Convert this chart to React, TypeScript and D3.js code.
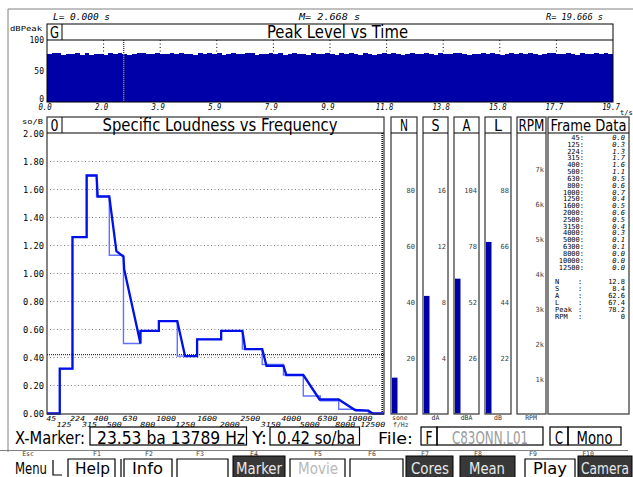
import React from "react";
import * as d3 from "d3";

// ---------- DATA ----------
const peakLevels = [
  78.2, 78.4, 78.3, 75.6, 78.2, 78.0, 78.4, 75.8, 78.3, 75.2, 78.2, 78.1, 75.5, 78.3, 78.2, 78.4, 78.1, 76.0, 78.2, 78.3,
  78.4, 78.2, 78.1, 78.3, 78.2, 77.8, 78.4, 78.2, 78.3, 78.0, 78.2, 75.6, 78.3, 78.2, 78.4, 78.1, 78.3, 76.1, 78.2, 78.3,
  78.1, 78.2, 78.4, 78.3, 75.7, 78.2, 78.1, 78.3, 78.2, 78.4, 75.4, 78.2, 78.3, 78.1, 78.2, 76.0, 78.4, 78.2, 78.1, 78.3,
  78.2, 75.6, 78.3, 78.2, 78.4, 78.1, 75.8, 78.3, 78.2, 75.2, 78.2, 78.4, 78.1, 78.3, 78.2, 76.2, 78.2, 78.3, 78.1, 78.2,
  78.4, 78.2, 75.5, 78.3, 78.1, 78.2, 78.4, 78.3, 78.2, 76.0, 78.1, 78.2, 78.4, 78.2, 78.3, 78.1, 75.8, 78.2, 78.3, 78.2,
  78.4, 78.1, 78.3, 78.2, 76.4, 78.2, 78.4, 78.3, 78.1, 78.2, 78.3, 78.2, 75.7, 78.4, 78.2, 78.1, 78.3, 78.2, 78.4, 78.2,
];
const timeMax = 19.666;
const timeTickLabels = ["0.0", "2.0", "3.9", "5.9", "7.9", "9.9", "11.8", "13.8", "15.8", "17.7", "19.7"];
const peakTicks = [0, 50, 100];
const markerTime = 2.668;

const bandLabels = ["45", "125", "224", "315", "400", "500", "630", "800", "1000", "1250", "1600", "2000", "2500", "3150", "4000", "5000", "6300", "8000", "10000", "12500"];
const bandEdges = [0, 0.9, 1.8, 2.8, 3.5, 4.4, 5.4, 6.6, 7.9, 9.2, 10.6, 12.3, 13.8, 15.2, 16.7, 18.1, 19.3, 20.6, 21.8, 22.7, 23.6];
const coreLoudness = [0.0, 0.32, 1.26, 1.7, 1.55, 1.13, 0.5, 0.59, 0.66, 0.41, 0.53, 0.59, 0.46, 0.35, 0.275, 0.125, 0.09, 0.03, 0.02, 0.0];
const mainLoudness: [number, number][] = [
  [0, 0], [0.9, 0], [0.9, 0.32], [1.8, 0.32], [1.8, 1.26], [2.8, 1.26], [2.8, 1.7], [3.5, 1.7], [3.58, 1.55],
  [4.4, 1.55], [4.9, 1.16], [5.4, 1.12], [5.45, 1.03], [6.6, 0.5], [6.6, 0.59], [7.9, 0.59], [7.9, 0.66],
  [9.2, 0.66], [9.75, 0.41], [10.6, 0.41], [10.6, 0.53], [12.3, 0.53], [12.3, 0.59], [13.8, 0.59], [14.0, 0.46],
  [15.2, 0.46], [15.5, 0.34], [16.7, 0.34], [16.9, 0.275], [18.1, 0.275], [19.25, 0.1], [20.6, 0.1],
  [21.75, 0.025], [22.7, 0.02], [23.0, 0], [23.8, 0],
];
const loudTicks = [0, 0.2, 0.4, 0.6, 0.8, 1.0, 1.2, 1.4, 1.6, 1.8, 2.0];
const yMarkerValue = 0.42;
const xMarkerBark = 23.53;

const meterNames = ["N", "S", "A", "L"];
const meterUnits = ["sone", "dA", "dBA", "dB"];
const meterMax = [100, 20, 130, 110];
const meterTicks = [[20, 40, 60, 80], [4, 8, 12, 16], [26, 52, 78, 104], [22, 44, 66, 88]];
const meterValues = [12.8, 8.4, 62.6, 67.4];
const rpmTicks = [1, 2, 3, 4, 5, 6, 7];

const frameValues = ["0.0", "0.3", "1.3", "1.7", "1.6", "1.1", "0.5", "0.6", "0.7", "0.4", "0.5", "0.6", "0.5", "0.4", "0.3", "0.1", "0.1", "0.0", "0.0", "0.0"];
const summaryLabels = ["N", "S", "A", "L", "Peak", "RPM"];
const summaryValues = ["12.8", "8.4", "62.6", "67.4", "78.2", "0"];

const fKeys = ["Esc", "F1", "F2", "F3", "F4", "F5", "F6", "F7", "F8", "F9", "F10"];

// ---------- STYLE ----------
const SMALL = "'DejaVu Sans Mono', 'Liberation Mono', monospace";
const TITLE = "'DejaVu Sans Condensed', 'Liberation Sans Narrow', 'DejaVu Sans', sans-serif";
const BLUE_DARK = "#0000a8";

type TP = {
  x: number; y: number; s?: string | number; size?: number; anchor?: "start" | "middle" | "end";
  fill?: string; family?: string; w?: number; weight?: string | number; italic?: boolean;
};
function T({ x, y, s, size = 8, anchor = "start", fill = "#000", family = SMALL, w, weight = "normal", italic }: TP) {
  return (
    <text x={x} y={y} fontSize={size} fontFamily={family} textAnchor={anchor} fill={fill}
      fontWeight={weight} fontStyle={italic ? "italic" : "normal"}
      {...(w ? { textLength: w, lengthAdjust: "spacingAndGlyphs" } : {})}>{s}</text>
  );
}

export default function App() {
  // ---- top panel scales
  const xT = d3.scaleLinear().domain([0, timeMax]).range([47, 613]);
  const yP = d3.scaleLinear().domain([0, 100]).range([102, 40]);
  const dt = timeMax / peakLevels.length;
  const timeTicks = d3.range(11).map((i) => (timeMax * i) / 10);
  const peakSeries: [number, number][] = peakLevels.map((v, i) => [i * dt, v]);
  peakSeries.push([timeMax, peakLevels[peakLevels.length - 1]]);
  const peakArea = d3.area<[number, number]>()
    .x((d) => xT(d[0])).y0(yP(0)).y1((d) => yP(d[1])).curve(d3.curveStepAfter);

  // ---- main chart scales
  const xB = d3.scaleLinear().domain([0, 23.8]).range([47, 384]);
  const yL = d3.scaleLinear().domain([0, 2]).range([413.5, 133.5]);
  const corePts: [number, number][] = [];
  coreLoudness.forEach((v, i) => {
    corePts.push([bandEdges[i], v]);
    corePts.push([bandEdges[i + 1], v]);
  });
  const line = d3.line<[number, number]>().x((d) => xB(d[0])).y((d) => yL(d[1]));

  const meterX: [number, number][] = [[391, 417], [423, 448], [454, 479], [485, 511]];
  const yR = d3.scaleLinear().domain([0, 8]).range([413.5, 133.5]);

  const frameY = d3.scaleLinear().domain([0, 19]).range([137.5, 267]);

  return (
    <svg width={633} height={477} style={{ position: "absolute", left: 0, top: 0, background: "#fff" }}
      xmlns="http://www.w3.org/2000/svg">
      <rect x={0} y={0} width={633} height={477} fill="#fff" />
      {/* outer frame */}
      <path d="M8,452 V9 H640" fill="none" stroke="#808080" strokeWidth={1} />
      <line x1={0} x2={628} y1={450.5} y2={450.5} stroke="#808080" />

      {/* ======== TOP PANEL ======== */}
      <T x={53} y={20} s="L= 0.000 s" size={8} italic w={57} />
      <T x={299} y={20} s="M= 2.668 s" size={8} italic w={61} />
      <T x={546} y={20} s="R= 19.666 s" size={8} italic w={57} />
      <T x={10} y={31} s="dBPeak" size={7} w={32} />
      {peakTicks.map((t) => (
        <T key={t} x={44} y={t === 0 ? 102 : yP(t) + 3} s={t} size={8} anchor="end" />
      ))}
      {/* gridlines */}
      {timeTicks.slice(1, 10).map((t, i) => (
        <line key={i} x1={xT(t)} x2={xT(t)} y1={40} y2={102} stroke="#000" strokeDasharray="1,2.5" />
      ))}
      <line x1={xT(markerTime)} x2={xT(markerTime)} y1={40} y2={102} stroke="#000" strokeDasharray="1,1" />
      <path d={peakArea(peakSeries) || ""} fill={BLUE_DARK} shapeRendering="crispEdges" />
      <line x1={xT(markerTime)} x2={xT(markerTime)} y1={yP(77)} y2={102} stroke="#e8e800" strokeDasharray="1,1" />
      <rect x={47} y={24} width={566} height={78} fill="none" stroke="#000" strokeWidth={1} />
      <line x1={47} x2={613} y1={40} y2={40} stroke="#000" />
      <line x1={62} x2={62} y1={24} y2={40} stroke="#000" />
      <T x={54.5} y={38} s="G" size={16} anchor="middle" family={TITLE} w={9} />
      <T x={337.5} y={38} s="Peak Level vs Time" size={17} anchor="middle" family={TITLE} w={141} />
      {timeTicks.map((t, i) => (
        <T key={i} x={xT(t) - 2} y={110} s={timeTickLabels[i]} size={8} anchor="middle" italic w={timeTickLabels[i].length * 4.4} />
      ))}
      <T x={620} y={115} s="t/s" size={7} />

      {/* ======== MAIN CHART ======== */}
      <T x={22} y={124} s="so/B" size={7} w={21} />
      {loudTicks.map((t) => (
        <T key={t} x={44} y={yL(t) + 3} s={t.toFixed(2)} size={8} anchor="end" w={21} />
      ))}
      {loudTicks.slice(1, 10).map((t) => (
        <line key={t} x1={50} x2={383} y1={yL(t)} y2={yL(t)} stroke="#808080" strokeDasharray="1,2.5" />
      ))}
      <line x1={47} x2={384} y1={yL(yMarkerValue)} y2={yL(yMarkerValue)} stroke="#000" strokeDasharray="1,1" />
      <line x1={xB(xMarkerBark) + 2} x2={xB(xMarkerBark) + 2} y1={133} y2={413} stroke="#000" strokeDasharray="1,1" strokeWidth={1.5} />
      <path d={line(corePts) || ""} fill="none" stroke="#6272ff" strokeWidth={1.4} />
      <path d={line(mainLoudness) || ""} fill="none" stroke="#0010e8" strokeWidth={2.3} strokeLinejoin="miter" />
      <rect x={47} y={117} width={337} height={297} fill="none" stroke="#333" strokeWidth={1.2} />
      <line x1={47} x2={384} y1={133} y2={133} stroke="#000" />
      <line x1={62} x2={62} y1={117} y2={133} stroke="#000" />
      <T x={54.5} y={131} s="0" size={16} anchor="middle" family={TITLE} w={8} />
      <T x={220} y={131} s="Specific Loudness vs Frequency" size={17} anchor="middle" family={TITLE} w={235} />
      {bandLabels.map((b, i) => {
        const cx = xB((bandEdges[i] + bandEdges[i + 1]) / 2) - 2;
        const top = i % 2 === 0;
        return <T key={b} x={cx} y={top ? 421 : 427} s={b} size={7} anchor="middle" italic w={b.length * 5} />;
      })}

      {/* ======== METERS ======== */}
      {meterNames.map((n, k) => {
        const [x0, x1] = meterX[k];
        const ys = d3.scaleLinear().domain([0, meterMax[k]]).range([413.5, 133.5]);
        return (
          <g key={n}>
            <rect x={x0 + 1} y={ys(meterValues[k])} width={5.5} height={413.5 - ys(meterValues[k])} fill={BLUE_DARK} />
            {meterTicks[k].map((t) => (
              <T key={t} x={x1 - 2} y={ys(t) + 3} s={t} size={7} anchor="end" fill="#404040" />
            ))}
            <rect x={x0} y={117} width={x1 - x0} height={297} fill="none" stroke="#333" strokeWidth={1.2} />
            <line x1={x0} x2={x1} y1={133} y2={133} stroke="#000" />
            <T x={(x0 + x1) / 2} y={131} s={n} size={16} anchor="middle" family={TITLE} w={8} />
            <T x={k === 0 ? x0 + 1 : (x0 + x1) / 2} y={420} s={meterUnits[k]} size={6.5} anchor={k === 0 ? "start" : "middle"} fill="#303030" />
          </g>
        );
      })}
      <T x={393} y={426.5} s="f/Hz" size={6.5} fill="#303030" />

      {/* RPM */}
      {rpmTicks.map((t) => (
        <T key={t} x={544} y={yR(t) + 3} s={`${t}k`} size={7} anchor="end" fill="#404040" />
      ))}
      <rect x={517} y={117} width={29} height={297} fill="none" stroke="#333" strokeWidth={1.2} />
      <line x1={517} x2={546} y1={133} y2={133} stroke="#000" />
      <T x={531.5} y={131} s="RPM" size={16} anchor="middle" family={TITLE} w={26} />
      <T x={531} y={420} s="RPM" size={6.5} anchor="middle" fill="#303030" />

      {/* Frame Data */}
      <rect x={548} y={117} width={81} height={297} fill="none" stroke="#333" strokeWidth={1.2} />
      <line x1={548} x2={629} y1={133} y2={133} stroke="#000" />
      <T x={588.5} y={131} s="Frame Data" size={16} anchor="middle" family={TITLE} w={76} />
      {bandLabels.map((b, i) => (
        <g key={b}>
          <T x={584} y={frameY(i) + 2.5} s={`${b}:`} size={7} anchor="end" />
          <T x={625} y={frameY(i) + 2.5} s={frameValues[i]} size={7} anchor="end" italic />
        </g>
      ))}
      {summaryLabels.map((l, i) => (
        <g key={l}>
          <T x={555} y={284 + i * 6.9} s={l} size={7} />
          <T x={578} y={284 + i * 6.9} s=":" size={7} />
          <T x={625} y={284 + i * 6.9} s={summaryValues[i]} size={7} anchor="end" />
        </g>
      ))}

      {/* ======== STATUS BAR ======== */}
      <T x={15} y={444} s="X-Marker:" size={17} family={TITLE} w={70} />
      <rect x={90} y={427} width={156.5} height={18} fill="none" stroke="#000" strokeWidth={1.2} />
      <T x={97} y={444} s="23.53 ba 13789 Hz" size={17} family={TITLE} w={148} />
      <T x={252} y={444} s="Y:" size={17} family={TITLE} w={15} />
      <rect x={270} y={427} width={89.5} height={18} fill="none" stroke="#000" strokeWidth={1.2} />
      <T x={277} y={444} s="0.42 so/ba" size={17} family={TITLE} w={78} />
      <T x={378} y={444} s="File:" size={16} family={TITLE} w={35} />
      <rect x={421} y={427} width={16} height={18} fill="none" stroke="#000" strokeWidth={1.2} />
      <T x={429} y={444} s="F" size={17} anchor="middle" family={TITLE} w={7} />
      <rect x={437} y={427} width={106} height={18} fill="none" stroke="#000" strokeWidth={1.2} />
      <T x={490} y={444} s="C83ONN.L01" size={17} anchor="middle" family={TITLE} fill="#9a9a9a" w={76} />
      <rect x={550} y={427} width={18} height={18} fill="none" stroke="#000" strokeWidth={1.2} />
      <T x={559} y={444} s="C" size={17} anchor="middle" family={TITLE} w={8} />
      <rect x={568} y={427} width={53} height={18} fill="none" stroke="#000" strokeWidth={1.2} />
      <T x={594.5} y={444} s="Mono" size={17} anchor="middle" family={TITLE} w={36} />

      {/* function key labels */}
      {fKeys.map((k, i) => {
        const cx = [28, 97, 149, 200, 254, 318, 372, 425, 478, 533, 588][i];
        return <T key={k} x={cx} y={456} s={k} size={6.5} anchor="middle" fill="#404040" />;
      })}

      {/* buttons */}
      <T x={15} y={474} s="Menu" size={15} family={TITLE} w={32} />
      <path d="M53,460 V475 H62" fill="none" stroke="#000" strokeWidth={1.2} />
      <path d="M68,477 V459 H115 V477" fill="none" stroke="#000" strokeWidth={1.2} />
      <T x={75} y={474} s="Help" size={15} family={TITLE} w={35} />
      <path d="M121,477 V459 M124,477 V459 H172 V477" fill="none" stroke="#000" strokeWidth={1.2} />
      <T x={132} y={474} s="Info" size={15} family={TITLE} w={31} />
      <path d="M177,477 V459 H228 V477" fill="none" stroke="#000" strokeWidth={1.2} />
      <rect x={233} y={456} width={52} height={22} fill="#383838" stroke="#000" />
      <T x={259} y={474} s="Marker" size={15} anchor="middle" family={TITLE} fill="#e8e8e8" w={46} />
      <path d="M290,477 V459 H345 V477" fill="none" stroke="#000" strokeWidth={1.2} />
      <T x={298} y={474} s="Movie" size={15} family={TITLE} fill="#b8b8b8" w={40} />
      <path d="M350,477 V459 H403 V477" fill="none" stroke="#000" strokeWidth={1.2} />
      <rect x={406} y={456} width={47} height={22} fill="#383838" stroke="#000" />
      <T x={430} y={474} s="Cores" size={15} anchor="middle" family={TITLE} fill="#e8e8e8" w={38} />
      <rect x={460} y={456} width={55} height={22} fill="#383838" stroke="#000" />
      <T x={487} y={474} s="Mean" size={15} anchor="middle" family={TITLE} fill="#e8e8e8" w={36} />
      <path d="M525,477 V459 H575 V477" fill="none" stroke="#000" strokeWidth={1.2} />
      <T x={550} y={474} s="Play" size={15} anchor="middle" family={TITLE} w={34} />
      <rect x={578} y={456} width={54} height={22} fill="#383838" stroke="#000" />
      <T x={605} y={474} s="Camera" size={15} anchor="middle" family={TITLE} fill="#e8e8e8" w={48} />
    </svg>
  );
}
